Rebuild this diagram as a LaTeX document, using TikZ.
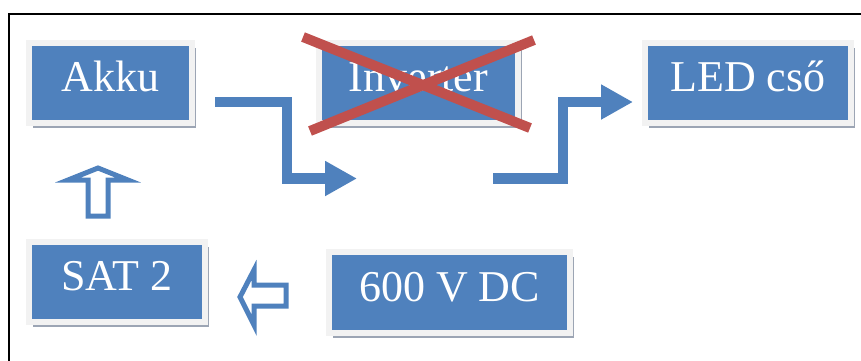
\documentclass[tikz,border=0pt]{standalone}
\usepackage{fontspec}
\setmainfont{Liberation Serif}
\usetikzlibrary{arrows.meta,shadows}
\definecolor{boxblue}{HTML}{4F81BD}
\definecolor{boxrim}{HTML}{F2F2F2}
\definecolor{boxshade}{HTML}{9CA5B4}
\definecolor{crossred}{HTML}{C0504D}
\begin{document}
\begin{tikzpicture}[x=1pt,y=-1pt,
    unit/.style ={rectangle, fill=boxblue, draw=boxrim, line width=6pt, inner sep=0pt,
      text=white, font=\fontsize{44}{44}\selectfont, text height=30pt, text depth=13pt,
      drop shadow={shadow xshift=4pt, shadow yshift=-5pt, fill=boxshade, opacity=1}},
    flow/.style ={boxblue, line width=10.5pt, line join=miter, -{Triangle[width=33pt,length=32pt]}},
    hollow/.style ={boxblue, line width=5pt, line join=miter, fill=white}]
   \useasboundingbox (0,0) rectangle (861,360);
   \draw[line width=1.5pt] (9,380) -- (9,14) -- (880,14);
   \node[unit, minimum width=163pt, minimum height=80pt] (akku) at (110.5,83) {Akku};
   \node[unit, minimum width=199pt, minimum height=80pt] (inv)  at (418.5,83) {Inverter};
   \node[unit, minimum width=206pt, minimum height=80pt] (led)  at (748,83)   {LED cső};
   \node[unit, minimum width=176pt, minimum height=80pt] (sat)  at (117,282)  {SAT 2};
   \node[unit, minimum width=241pt, minimum height=81pt] (dc)   at (449.5,292.5) {600 V DC};
   \coordinate (f1s) at (215,102);
   \coordinate (f1e) at (357,178.5);
   \coordinate (f2s) at (493,178.5);
   \coordinate (f2e) at (633,102);
   \draw[flow] (f1s) -- (287,102) |- (f1e);
   \draw[flow] (f2s) -- (563,178.5) |- (f2e);
   \draw[crossred, line width=10pt] (303,37) -- (530,128);
   \draw[crossred, line width=10pt] (310,131) -- (534,40);
   \draw[hollow] (98,168) -- (128,180) -- (108,180) -- (108,216) -- (88,216) -- (88,180) -- (68,180) -- cycle;
   \draw[hollow] (240,297) -- (254,270) -- (254,285) -- (286,285) -- (286,306) -- (254,306) -- (254,325) -- cycle;
 \end{tikzpicture}
\end{document}
